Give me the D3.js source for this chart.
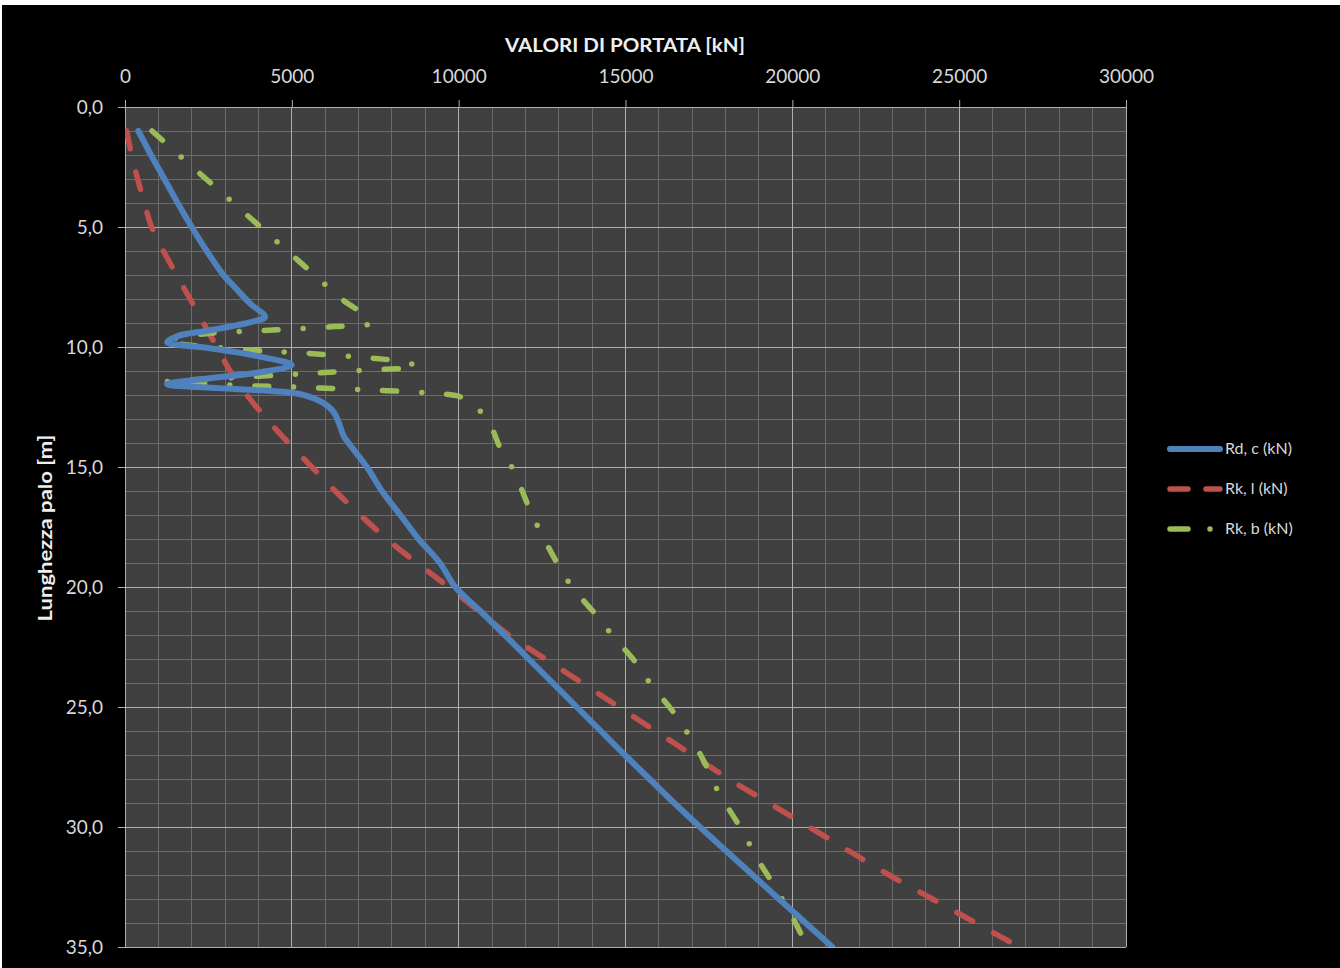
<!DOCTYPE html>
<html><head><meta charset="utf-8">
<script src="https://cdn.jsdelivr.net/npm/d3@7"></script>
<style>
html,body{margin:0;padding:0;background:#fff;}
svg{display:block;}
text{font-family:Lato,"Open Sans",sans-serif;fill:#d9d9d9;}
</style></head>
<body>
<svg id="chart" width="1340" height="968"></svg>
<script>
// ---- data ----
const xTicks = [0, 5000, 10000, 15000, 20000, 25000, 30000];
const yTicks = [0, 5, 10, 15, 20, 25, 30, 35];
const seriesNames = ["Rd, c (kN)", "Rk, l (kN)", "Rk, b (kN)"];

// Rd,c : depth m, value kN
const rdcDepth = [1.0, 2, 3, 4, 5, 6, 7, 7.6, 8.2, 8.75, 8.95, 9.3, 9.55, 9.8, 10.05, 10.4, 10.75, 11.05, 11.3, 11.55, 11.75, 11.95, 12.3, 12.7, 13.2, 13.7, 14, 15, 16, 17, 18, 19, 20, 21, 22, 23, 24, 25, 26, 27, 28, 29, 30, 31, 32, 33, 34, 35];
const rdcValue = [400, 780, 1180, 1580, 2000, 2450, 2950, 3350, 3760, 4200, 3800, 2550, 1560, 1260, 2550, 4050, 5000, 4050, 2550, 1260, 3300, 5200, 5900, 6250, 6420, 6550, 6700, 7250, 7700, 8250, 8800, 9440, 9900, 10650, 11380, 12100, 12820, 13540, 14260, 14980, 15720, 16460, 17230, 18020, 18810, 19600, 20400, 21200];

// Rk,l
const rklDepth = [1, 2, 3, 4, 5, 6, 7, 8, 9, 10, 11, 12, 13, 14, 15, 16, 17, 18, 19, 20, 21, 22, 23, 24, 25, 26, 27, 28, 29, 30, 31, 32, 33, 34, 35];
const rklValue = [50, 200, 380, 580, 800, 1150, 1550, 1950, 2350, 2750, 3150, 3650, 4250, 4900, 5600, 6300, 7050, 7850, 8750, 9700, 10600, 11500, 12600, 13700, 14800, 15900, 17000, 18100, 19300, 20500, 21700, 22900, 24200, 25500, 26800];

// Rk,b
const rkbDepth = [1.0, 2, 3, 4, 5, 6, 7, 8, 8.6, 9.0, 9.15, 9.3, 9.45, 9.75, 10.1, 10.25, 10.45, 10.6, 10.8, 11.0, 11.15, 11.3, 11.45, 11.6, 11.68, 11.78, 11.92, 12.1, 12.6, 13.4, 14.2, 15.1, 16.6, 17.5, 19, 20, 21.1, 22, 23.2, 24, 25.3, 26.8, 27.6, 28.5, 30, 31.5, 32.3, 33.8, 35];
const rkbValue = [810, 1620, 2430, 3250, 4060, 4870, 5680, 6490, 7100, 7350, 6300, 4300, 2400, 1250, 3450, 5300, 7300, 8250, 8750, 6700, 4900, 2900, 1250, 3450, 5300, 7200, 9100, 10100, 10600, 11000, 11240, 11630, 12080, 12380, 12950, 13400, 14080, 14600, 15340, 15730, 16480, 17170, 17470, 17770, 18430, 19030, 19390, 20020, 20450];

const seriesColors = ["#4f81bd", "#c0504d", "#9bbb59"];

// ---- layout ----
const svg = d3.select("#chart");
const L = 125, R = 1126, T = 107, B = 947;
const x = d3.scaleLinear().domain([0, 30000]).range([L, R]);
const y = d3.scaleLinear().domain([0, 35]).range([T, B]);

svg.append("rect").attr("x", 2).attr("y", 5).attr("width", 1338).attr("height", 963).attr("fill", "#000");
svg.append("rect").attr("x", L).attr("y", T).attr("width", R - L).attr("height", B - T).attr("fill", "#404040");

// minor grid
const g = svg.append("g");
g.selectAll("line.mx").data(d3.range(0, 30001, 1000)).join("line")
  .attr("x1", d => x(d)).attr("x2", d => x(d)).attr("y1", T).attr("y2", B)
  .attr("stroke", "#6b6b6b").attr("stroke-width", 1).attr("shape-rendering", "crispEdges");
g.selectAll("line.my").data(d3.range(0, 35.01, 1)).join("line")
  .attr("y1", d => y(d)).attr("y2", d => y(d)).attr("x1", L).attr("x2", R)
  .attr("stroke", "#6b6b6b").attr("stroke-width", 1).attr("shape-rendering", "crispEdges");
// major grid
g.selectAll("line.Mx").data(xTicks).join("line")
  .attr("x1", d => x(d)).attr("x2", d => x(d)).attr("y1", T).attr("y2", B)
  .attr("stroke", "#b0b0b0").attr("stroke-width", 1).attr("shape-rendering", "crispEdges");
g.selectAll("line.My").data(yTicks).join("line")
  .attr("y1", d => y(d)).attr("y2", d => y(d)).attr("x1", L).attr("x2", R)
  .attr("stroke", "#b0b0b0").attr("stroke-width", 1).attr("shape-rendering", "crispEdges");

// axes
const xAxis = d3.axisTop(x).tickValues(xTicks).tickFormat(d3.format("d")).tickSize(7).tickPadding(17);
const gx = svg.append("g").attr("transform", `translate(0,${T})`).call(xAxis);
const yAxis = d3.axisLeft(y).tickValues(yTicks).tickFormat(d => d.toFixed(1).replace(".", ",")).tickSize(7).tickPadding(15);
const gy = svg.append("g").attr("transform", `translate(${L},0)`).call(yAxis);
[gx, gy].forEach(a => {
  a.selectAll("path").attr("stroke", "#b0b0b0").attr("stroke-width", 1);
  a.selectAll("line").attr("stroke", "#b0b0b0");
  a.selectAll("text").attr("fill", "#d9d9d9").style("font-size", "19px").style("font-family", "Lato");
});
gx.select("path.domain").attr("d", `M${L},0.5H${R}`);
gy.select("path.domain").attr("d", `M0.5,${T}V${B}`);

// titles
svg.append("text").attr("x", 625).attr("y", 52).attr("text-anchor", "middle")
  .style("font-size", "19px").style("font-weight", "bold").style("fill", "#eeeeee")
  .attr("textLength", 240).attr("lengthAdjust", "spacingAndGlyphs")
  .text("VALORI DI PORTATA [kN]");
svg.append("text").attr("transform", "translate(52,528) rotate(-90)").attr("text-anchor", "middle")
  .style("font-size", "19px").style("font-weight", "bold").style("fill", "#eeeeee")
  .attr("textLength", 187).attr("lengthAdjust", "spacingAndGlyphs")
  .text("Lunghezza palo [m]");

// lines
const line = d3.line().x(d => x(d[1])).y(d => y(d[0])).curve(d3.curveCatmullRom.alpha(0.5));
const series = [
  { pts: d3.zip(rdcDepth, rdcValue), color: seriesColors[0], w: 6, dash: null },
  { pts: d3.zip(rklDepth, rklValue), color: seriesColors[1], w: 5.5, dash: "18 24" },
  { pts: d3.zip(rkbDepth, rkbValue), color: seriesColors[2], w: 5.5, dash: "14 25 0 25" }
];
const plot = svg.append("g");
plot.append("clipPath").attr("id", "clip").append("rect").attr("x", L).attr("y", T - 5).attr("width", R - L).attr("height", B - T + 5);
[series[1], series[2], series[0]].forEach(s => {
  plot.append("path").attr("d", line(s.pts)).attr("fill", "none")
    .attr("stroke", s.color).attr("stroke-width", s.w)
    .attr("stroke-linecap", "round").attr("stroke-linejoin", "round")
    .attr("stroke-dasharray", s.dash)
    .attr("clip-path", "url(#clip)");
});

// legend
const lg = svg.append("g");
const legY = [449, 489, 529];
series.forEach((s, i) => {
  lg.append("line").attr("x1", 1170).attr("x2", 1220).attr("y1", legY[i]).attr("y2", legY[i])
    .attr("stroke", s.color).attr("stroke-width", s.w)
    .attr("stroke-linecap", "round")
    .attr("stroke-dasharray", i === 0 ? null : (i === 1 ? "18 18" : "18 22 0 30"));
  lg.append("text").attr("x", 1225).attr("y", legY[i] + 5)
    .style("font-size", "16px").style("fill", "#d9d9d9").text(seriesNames[i]);
});
</script>
</body></html>
